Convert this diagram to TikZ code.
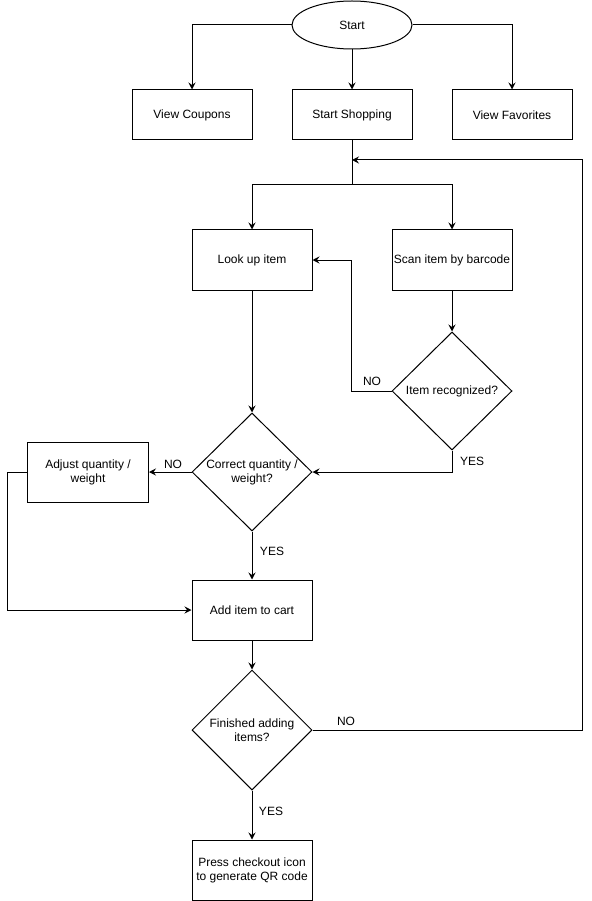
\documentclass[tikz,border=0pt]{standalone}
\usepackage{fontspec}
\setmainfont{Liberation Sans}
\usepackage{tikz}
\usetikzlibrary{shapes.geometric}
\usetikzlibrary{arrows.meta}

\begin{document}
\begin{tikzpicture}[x=1pt,y=-1pt,font=\fontsize{12}{14}\selectfont]
    \tikzstyle{dedge} = [line width=1pt,-{Stealth[length=7pt,width=7pt,inset=2.5pt]},draw=black]
    \tikzstyle{line} = [line width=1pt,draw=black]
    \tikzstyle{shared}=[
      draw=black,
      line width=1pt,
      align=center,
      inner sep=0pt,
    ]
    \tikzstyle{process}=[
      shared,
      rectangle,
      minimum width=120pt,
      minimum height=60pt,
    ]
    \tikzstyle{decision}=[
      shared,
      diamond,
      aspect=1,
      minimum width=120pt,
      minimum height=118pt,
    ]
    \tikzstyle{terminal}=[
      shared,
      ellipse,
      minimum width=120pt,
      minimum height=48pt,
    ]
    \tikzstyle{label}=[
      inner sep=0pt,
    ]

    \useasboundingbox (0,0) rectangle (591,901);

    \node[terminal] (start) at (352,25) {Start};
    \node[process,minimum height=50pt] (coupons) at (192,115) {View Coupons};
    \node[process,minimum height=50pt] (shopping) at (352,115) {Start Shopping};
    \node[process,minimum height=50pt] (favorites) at (512,115) {View Favorites};

    \node[process] (lookup) at (252,260) {Look up item};
    \node[process] (scan) at (452,260) {Scan item by barcode};
    \node[decision] (recognized) at (452,391) {Item recognized?};
    \node[decision] (correct) at (252,472) {Correct quantity /\\ weight?};
    \node[process,minimum width=121pt] (adjust) at (88,472) {Adjust quantity /\\ weight};
    \node[process] (add) at (252,610) {Add item to cart};
    \node[decision,minimum height=120pt] (finished) at (252,730) {Finished adding\\ items?};
    \node[process] (checkout) at (252,870) {Press checkout icon\\ to generate QR code};

    \coordinate (split) at (352,185);
    \coordinate (loop) at (352,160);

    \node[label] (recognized no) at (372,381) {NO};
    \node[label] (recognized yes) at (472,461) {YES};
    \node[label] (correct no) at (173,464) {NO};
    \node[label] (correct yes) at (272,551) {YES};
    \node[label] (finished no) at (346,721) {NO};
    \node[label] (finished yes) at (271,811) {YES};

    \draw[dedge] (start.west) -| (coupons.north);
    \draw[dedge] (start.south) -- (shopping.north);
    \draw[dedge] (start.east) -| (favorites.north);
    \draw[line] (shopping.south) -- (split);
    \draw[dedge] (split) -| (lookup.north);
    \draw[dedge] (split) -| (scan.north);
    \draw[dedge] (scan.south) -- (recognized.north);
    \draw[dedge] (recognized.west) -- ++(-40,0) |- (lookup.east);
    \draw[dedge] (recognized.south) |- (correct.east);
    \draw[dedge] (lookup.south) -- (correct.north);
    \draw[dedge] (correct.west) -- (adjust.east);
    \draw[dedge] (adjust.west) -- ++(-20,0) |- (add.west);
    \draw[dedge] (correct.south) -- (add.north);
    \draw[dedge] (add.south) -- (finished.north);
    \draw[dedge] (finished.east) -- ++(270,0) |- (loop);
    \draw[dedge] (finished.south) -- (checkout.north);
  \end{tikzpicture}
\end{document}
